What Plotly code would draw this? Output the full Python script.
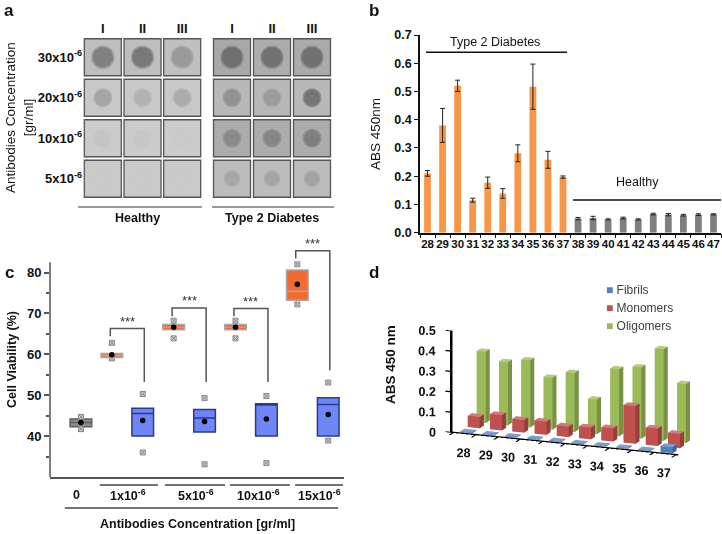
import plotly.graph_objects as go

# ---------------- data ----------------
# panel a: dot blot, grey level (0-255) of membrane and of each spot
conc_rows = ["30x10<sup>-6</sup>", "20x10<sup>-6</sup>", "10x10<sup>-6</sup>", "5x10<sup>-6</sup>"]
replicates = ["I", "II", "III"]
healthy_membrane = [[190, 190, 192], [200, 200, 200], [203, 203, 203], [202, 202, 202]]
healthy_spot = [[120, 112, 150], [160, 176, 168], [196, 198, 201], [202, 202, 202]]
t2d_membrane = [[168, 172, 170], [184, 184, 184], [172, 172, 172], [188, 188, 188]]
t2d_spot = [[104, 106, 104], [142, 152, 108], [134, 130, 122], [164, 162, 160]]

# panel b: ELISA
patients = [str(n) for n in range(28, 48)]
abs_mean = [0.21, 0.38, 0.52, 0.115, 0.177, 0.139, 0.281, 0.517, 0.258, 0.197,
            0.050, 0.052, 0.047, 0.052, 0.047, 0.066, 0.064, 0.062, 0.064, 0.065]
abs_err = [0.01, 0.06, 0.02, 0.007, 0.02, 0.017, 0.03, 0.08, 0.03, 0.004,
           0.004, 0.006, 0.002, 0.003, 0.002, 0.003, 0.004, 0.003, 0.003, 0.002]

# panel c: cell viability boxes
conc_labels = ["0", "1x10<sup>-6</sup>", "5x10<sup>-6</sup>", "10x10<sup>-6</sup>", "15x10<sup>-6</sup>"]
ctrl_box = dict(q1=42.3, med=43.3, q3=44.2, mean=43.3, lo=41.7, hi=44.7)
t2d_q1 = [59.2, 66.0, 66.0, 73.2]
t2d_med = [59.7, 66.6, 66.6, 75.4]
t2d_q3 = [60.2, 67.3, 67.3, 80.6]
t2d_mean = [59.9, 66.6, 66.6, 77.1]
t2d_lo = [59.0, 63.9, 63.9, 72.2]
t2d_hi = [62.8, 68.2, 68.2, 82.0]
hl_q1 = [40.05, 41.0, 40.05, 40.05]
hl_med = [45.5, 44.45, 47.6, 47.7]
hl_q3 = [46.8, 46.5, 47.9, 49.4]
hl_mean = [43.8, 43.6, 44.2, 45.3]
hl_lo = [36.0, 33.1, 33.4, 38.9]
hl_hi = [50.3, 49.3, 49.8, 53.1]

# panel d: 3D bars
d_patients = [str(n) for n in range(28, 38)]
fibrils = [0.003, 0.003, 0.003, 0.003, 0.003, 0.003, 0.003, 0.003, 0.003, 0.03]
monomers = [0.055, 0.075, 0.062, 0.065, 0.052, 0.058, 0.065, 0.185, 0.085, 0.07]
oligomers = [0.35, 0.31, 0.33, 0.255, 0.29, 0.17, 0.33, 0.35, 0.45, 0.29]
d_ticks = [0, 0.1, 0.2, 0.3, 0.4, 0.5]
d_tick_text = ["0", "0.1", "0.2", "0.3", "0.4", "0.5"]

W, H = 722, 534
FONT = "Liberation Sans, Arial, sans-serif"


def px(x):
    return x / W


def py(y):
    return 1 - y / H


def grey(v):
    return "rgb(%d,%d,%d)" % (v, v, v)


fig = go.Figure()

# ---------------- panel a ----------------
for k, (memb, spot) in enumerate([(healthy_membrane, healthy_spot), (t2d_membrane, t2d_spot)]):
    ax = "" if k == 0 else "2"
    xs, ys, mc, sc = [], [], [], []
    for r, row in enumerate(conc_rows):
        for c, rep in enumerate(replicates):
            xs.append(rep)
            ys.append(row)
            mc.append(grey(memb[r][c]))
            sc.append(grey(spot[r][c]))
    fig.add_trace(go.Scatter(x=xs, y=ys, mode="markers", xaxis="x" + ax, yaxis="y" + ax,
                             marker=dict(symbol="square", size=37, color=mc,
                                         line=dict(color="#555555", width=1.3)),
                             showlegend=False, hoverinfo="skip"))
    # soft halo + core for each spot
    fig.add_trace(go.Scatter(x=xs, y=ys, mode="markers", xaxis="x" + ax, yaxis="y" + ax,
                             marker=dict(symbol="circle", size=[23] * 3 + [19] * 3 + [19] * 3 + [17] * 3,
                                         color=sc, opacity=0.55, line=dict(width=0)),
                             showlegend=False, hoverinfo="skip"))
    fig.add_trace(go.Scatter(x=xs, y=ys, mode="markers", xaxis="x" + ax, yaxis="y" + ax,
                             marker=dict(symbol="circle", size=[20] * 3 + [16] * 3 + [16] * 3 + [14] * 3,
                                         color=sc, opacity=0.75, line=dict(width=0)),
                             showlegend=False, hoverinfo="skip"))

ax_a = dict(showgrid=False, zeroline=False, showline=False, ticks="", fixedrange=True, automargin=False)
fig.update_layout(
    xaxis=dict(ax_a, domain=[px(83), px(202)], anchor="y", side="top", range=[-0.5, 2.5],
               categoryorder="array", categoryarray=replicates,
               tickfont=dict(size=13, weight="bold", color="#111")),
    yaxis=dict(ax_a, domain=[py(199), py(37)], anchor="x", range=[3.5, -0.5],
               categoryorder="array", categoryarray=conc_rows,
               tickfont=dict(size=13, weight="bold", color="#111")),
    xaxis2=dict(ax_a, domain=[px(212), px(332)], anchor="y2", side="top", range=[-0.5, 2.5],
                categoryorder="array", categoryarray=replicates,
                tickfont=dict(size=13, weight="bold", color="#111")),
    yaxis2=dict(ax_a, domain=[py(199), py(37)], anchor="x2", range=[3.5, -0.5],
                categoryorder="array", categoryarray=conc_rows, showticklabels=False),
)

# ---------------- panel b ----------------
bar_cols = ["#F79646"] * 10 + ["#7F7F7F"] * 10
fig.add_trace(go.Bar(x=patients, y=abs_mean, xaxis="x3", yaxis="y3", width=0.45,
                     marker=dict(color=bar_cols, line=dict(width=0)),
                     error_y=dict(type="data", array=abs_err, color="#222", thickness=1, width=2.5),
                     showlegend=False, hoverinfo="skip"))
fig.update_layout(
    xaxis3=dict(domain=[px(420), px(721)], anchor="y3", type="category", showgrid=False, zeroline=False,
                showline=True, linecolor="#111", linewidth=1.5, ticks="outside", ticklen=4,
                tickson="boundaries", tickcolor="#111", tickangle=0, automargin=False,
                tickfont=dict(size=11.5, weight="bold", color="#111")),
    yaxis3=dict(domain=[py(232.7), py(35)], anchor="x3", range=[0, 0.7], dtick=0.1,
                showgrid=False, zeroline=False, showline=True, linecolor="#111", linewidth=1.5,
                ticks="outside", ticklen=4, tickcolor="#111", tickformat=".1f", automargin=False,
                tickfont=dict(size=12.5, weight="bold", color="#111")),
)

# ---------------- panel c ----------------
cats = ["ctrl", "t1", "h1", "t5", "h5", "t10", "h10", "t15", "h15"]
t_cats = cats[1::2]
h_cats = cats[2::2]
box_common = dict(xaxis="x4", yaxis="y4", width=0.7, whiskerwidth=0, showlegend=False,
                  hoverinfo="skip")
fig.add_trace(go.Box(x=["ctrl"], q1=[ctrl_box["q1"]], median=[ctrl_box["med"]], q3=[ctrl_box["q3"]],
                     lowerfence=[ctrl_box["q1"]], upperfence=[ctrl_box["q3"]],
                     fillcolor="#8C8C8C", line=dict(color="#5f5f5f", width=1.5), **box_common))
fig.add_trace(go.Box(x=t_cats, q1=t2d_q1, median=t2d_med, q3=t2d_q3,
                     lowerfence=t2d_q1, upperfence=t2d_q3,
                     fillcolor="#F4692E", line=dict(color="#A8A8A8", width=1.5), **box_common))
fig.add_trace(go.Box(x=h_cats, q1=hl_q1, median=hl_med, q3=hl_q3,
                     lowerfence=hl_q1, upperfence=hl_q3,
                     fillcolor="#6F86F7", line=dict(color="#2B3A8F", width=1.5), **box_common))
all_mean = [ctrl_box["mean"]] + [v for p in zip(t2d_mean, hl_mean) for v in p]
all_lo = [ctrl_box["lo"]] + [v for p in zip(t2d_lo, hl_lo) for v in p]
all_hi = [ctrl_box["hi"]] + [v for p in zip(t2d_hi, hl_hi) for v in p]
fig.add_trace(go.Scatter(x=cats + cats, y=all_lo + all_hi, mode="markers", xaxis="x4", yaxis="y4",
                         marker=dict(symbol="square-x", size=5, color="#d0d0d0",
                                     line=dict(color="#8a8a8a", width=1)),
                         showlegend=False, hoverinfo="skip", cliponaxis=False))
fig.add_trace(go.Scatter(x=cats, y=all_mean, mode="markers", xaxis="x4", yaxis="y4",
                         marker=dict(symbol="circle", size=5.5, color="black"),
                         showlegend=False, hoverinfo="skip"))
fig.update_layout(
    xaxis4=dict(domain=[px(50), px(344)], anchor="y4", range=[-1.0, 8.51],
                categoryorder="array", categoryarray=cats, showticklabels=False,
                showgrid=False, zeroline=False, showline=True, linecolor="#555", linewidth=1.5,
                ticks="", automargin=False),
    yaxis4=dict(domain=[py(477), py(235.7)], anchor="x4", range=[30, 89],
                tickvals=[40, 50, 60, 70, 80], showgrid=False, zeroline=False, showline=False,
                ticks="outside", ticklen=5, tickcolor="#555", tickwidth=1.5, automargin=False,
                minor=dict(tickvals=[35, 45, 55, 65, 75], ticks="outside", ticklen=3, tickcolor="#555"),
                tickfont=dict(size=13, weight="bold", color="#111")),
)

# ---------------- panel d ----------------
def shade(hexcol, f):
    r, g, b = int(hexcol[1:3], 16), int(hexcol[3:5], 16), int(hexcol[5:7], 16)
    if f >= 1:
        r, g, b = [int(v + (255 - v) * (f - 1)) for v in (r, g, b)]
    else:
        r, g, b = [int(v * f) for v in (r, g, b)]
    return "rgb(%d,%d,%d)" % (r, g, b)


FACES = [((0, 1, 2), 0.7), ((0, 2, 3), 0.7),      # bottom
         ((4, 5, 6), 1.25), ((4, 6, 7), 1.25),    # top
         ((0, 1, 5), 1.0), ((0, 5, 4), 1.0),      # front
         ((3, 2, 6), 0.7), ((3, 6, 7), 0.7),      # back
         ((0, 3, 7), 0.8), ((0, 7, 4), 0.8),      # left
         ((1, 2, 6), 0.78), ((1, 6, 5), 0.78)]    # right


def add_box(acc, x0, x1, y0, y1, z0, z1, col):
    X, Y, Z, I, J, K, FC = acc
    b = len(X)
    X += [x0, x1, x1, x0] * 2
    Y += [y0, y0, y1, y1] * 2
    Z += [z0] * 4 + [z1] * 4
    for f, s in FACES:
        I.append(b + f[0])
        J.append(b + f[1])
        K.append(b + f[2])
        FC.append(shade(col, s) if col.startswith("#") else col)


def mesh(acc):
    X, Y, Z, I, J, K, FC = acc
    return go.Mesh3d(x=X, y=Y, z=Z, i=I, j=J, k=K, facecolor=FC, flatshading=True,
                     lighting=dict(ambient=1.0, diffuse=0.0, specular=0.0, roughness=1, fresnel=0),
                     scene="scene", showlegend=False, hoverinfo="skip")


series = [("Fibrils", fibrils, "#4F81BD", 0.27), ("Monomers", monomers, "#C0504D", 0.27),
          ("Oligomers", oligomers, "#9BBB59", 0.2)]
hd = 0.27
for row, (name, vals, col, hw) in enumerate(series):
    acc = ([], [], [], [], [], [], [])
    for n, v in enumerate(vals):
        add_box(acc, n - hw, n + hw, row - hd, row + hd, 0, v, col)
    fig.add_trace(mesh(acc))

# axes of the 3D panel: thin black prisms in scene coordinates
x_lo, y_front = -0.6, -0.5
axes_acc = ([], [], [], [], [], [], [])
k = "rgb(0,0,0)"
add_box(axes_acc, x_lo - 0.035, x_lo + 0.035, y_front - 0.06, y_front + 0.06, 0, 0.5, k)
add_box(axes_acc, x_lo, 9.6, y_front - 0.06, y_front + 0.06, -0.003, 0.003, k)
for v in d_ticks:
    add_box(axes_acc, x_lo - 0.25, x_lo, y_front - 0.04, y_front + 0.04, v - 0.002, v + 0.002, k)
for n in range(11):
    add_box(axes_acc, n - 0.53, n - 0.47, y_front - 0.5, y_front, -0.002, 0.002, k)
fig.add_trace(mesh(axes_acc))

fig.add_trace(go.Scatter3d(x=[x_lo - 0.15] * len(d_ticks), y=[y_front] * len(d_ticks), z=d_ticks,
                           mode="text", text=d_tick_text, textposition="middle left",
                           textfont=dict(size=12.5, color="#111", family=FONT, weight="bold"),
                           scene="scene", showlegend=False, hoverinfo="skip"))
fig.add_trace(go.Scatter3d(x=[n + 0.25 for n in range(10)], y=[y_front - 0.9] * 10, z=[0.015] * 10,
                           mode="text", text=d_patients, textposition="bottom center",
                           textfont=dict(size=12.5, color="#111", family=FONT, weight="bold"),
                           scene="scene", showlegend=False, hoverinfo="skip"))

hidden = dict(visible=False, showspikes=False)
fig.update_layout(scene=dict(
    domain=dict(x=[px(409), px(722)], y=[py(483.4), py(295.4)]),
    aspectmode="manual", aspectratio=dict(x=2.69, y=1.013, z=1.12),
    camera=dict(eye=dict(x=0.735, y=-1.9, z=0.545), center=dict(x=0, y=0, z=0),
                projection=dict(type="orthographic")),
    xaxis=dict(hidden, range=[-1.0, 9.6]),
    yaxis=dict(hidden, range=[-2.1, 2.5]),
    zaxis=dict(hidden, range=[0, 0.5]),
    bgcolor="rgba(0,0,0,0)",
))

# ---------------- texts & lines ----------------
ann = []
shapes = []


def txt(x, y, s, size=12.5, bold=False, angle=0, color="#111", xref="paper", yref="paper",
        xanchor="center", yanchor="middle", **kw):
    ann.append(dict(x=x, y=y, xref=xref, yref=yref, text=s, showarrow=False, textangle=angle,
                    xanchor=xanchor, yanchor=yanchor,
                    font=dict(size=size, color=color, family=FONT, weight="bold" if bold else "normal"),
                    **kw))


def hline(x0, x1, y, color="#111", width=1.5, xref="paper", yref="paper"):
    shapes.append(dict(type="line", x0=x0, x1=x1, y0=y, y1=y, xref=xref, yref=yref,
                       line=dict(color=color, width=width)))


# panel letters
for L, x, y in [("a", 9, 10), ("b", 374, 10), ("c", 9, 272), ("d", 374, 272)]:
    txt(px(x), py(y), L, size=17, bold=True)

# a
txt(px(20), py(118), "Antibodies Concentration<br>[gr/ml]", size=13.5, angle=-90)
hline(px(78), px(202), py(207), color="#9a9a9a", width=2)
hline(px(212), px(334), py(207), color="#9a9a9a", width=2)
txt(px(137), py(218), "Healthy", size=12.5, bold=True)
txt(px(272), py(218), "Type 2 Diabetes", size=12.5, bold=True)

# b
txt(px(376), py(134), "ABS 450nm", size=13.5, angle=-90)
txt(px(495), py(42), "Type 2 Diabetes", size=12.5)
hline(px(426), px(567), py(52.3), width=1.5)
txt(px(637), py(182), "Healthy", size=12.5)
hline(px(573), px(721), py(200), width=1.5)

# c
txt(px(12), py(360), "Cell Viability (%)", size=12.5, bold=True, angle=-90)
txt(px(197), py(524), "Antibodies Concentration [gr/ml]", size=12.5, bold=True)
label_pos = [-0.14, 1.52, 3.72, 5.76, 7.73]
for lab, xp in zip(conc_labels, label_pos):
    txt(xp, py(495), lab, size=12.5, bold=True, xref="x4")
for x0, x1 in [(0.61, 2.49), (2.72, 4.66), (4.82, 6.76), (6.93, 8.48)]:
    hline(x0, x1, py(485), color="#444", width=1.5, xref="x4")
hline(-0.52, 8.32, py(508), color="#444", width=1.5, xref="x4")
shapes.append(dict(type="line", xref="x4 domain", yref="y4", x0=0, x1=0, y0=30, y1=82.5,
                   line=dict(color="#555", width=1.5)))
# significance brackets (left end, top, right end)
brackets = [(1, 64.4, 66.3, 53.25), (3, 69.3, 71.3, 53.25), (5, 69.3, 71.2, 53.25), (7, 83.4, 85.3, 56.1)]
for i0, yl, yt, yr in brackets:
    shapes.append(dict(type="path", xref="x4", yref="y4",
                       path="M %f,%f L %f,%f L %f,%f L %f,%f" % (i0 - 0.05, yl, i0 - 0.05, yt, i0 + 1.05, yt, i0 + 1.05, yr),
                       line=dict(color="#555", width=1.5)))
    txt(i0 + 0.5, yt + 1.8, "***", size=13, xref="x4", yref="y4", color="#333")

# d
txt(px(390), py(364), "ABS 450 nm", size=13.5, bold=True, angle=-90)
for s, yy, col in [("Fibrils", 290, "#4F81BD"), ("Monomers", 308, "#C0504D"), ("Oligomers", 326, "#9BBB59")]:
    txt(px(604), py(yy), "<span style='color:%s'>■</span> %s" % (col, s), size=12, color="#404040",
        xanchor="left")

fig.update_layout(
    template="none",
    width=W, height=H, margin=dict(l=0, r=0, t=0, b=0),
    paper_bgcolor="white", plot_bgcolor="white",
    font=dict(family=FONT, color="#111"),
    annotations=ann, shapes=shapes,
    boxmode="overlay", showlegend=False,
)

fig.write_html("out.html", config={"displayModeBar": False},
               post_script="document.body.style.margin='0px';")
